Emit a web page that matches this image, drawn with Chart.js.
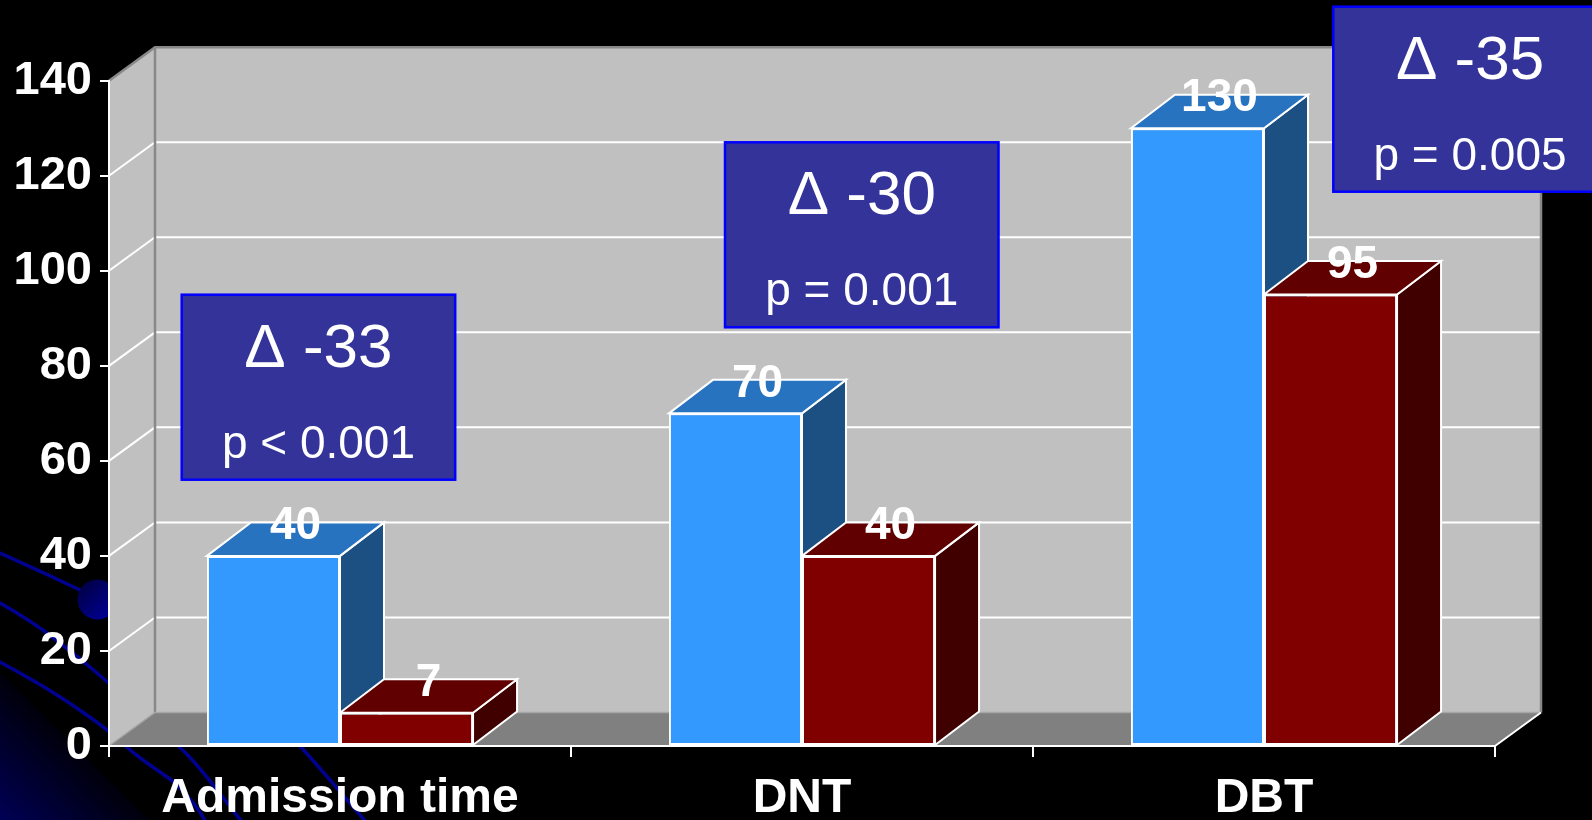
<!DOCTYPE html>
<html>
<head>
<meta charset="utf-8">
<style>
  html, body { margin: 0; padding: 0; background: #000; overflow: hidden; }
  #wrap { position: relative; width: 1592px; height: 820px; }
</style>
<script src="https://cdn.jsdelivr.net/npm/chart.js@4/dist/chart.umd.min.js"></script>
</head>
<body>
<div id="wrap"><canvas id="chart" width="1592" height="820"></canvas></div>
<script>
// ---- data ----
const categories = ['Admission time', 'DNT', 'DBT'];
const seriesBefore = [40, 70, 130];
const seriesAfter = [7, 40, 95];
const pValues = ['p < 0.001', 'p = 0.001', 'p = 0.005'];
const yTickValues = [0, 20, 40, 60, 80, 100, 120, 140];

// ---- look ----
const FONT = '"Liberation Sans", Arial, sans-serif';
const WALL_DX = 46, WALL_DY = -33.5;   // depth of the back wall / floor
const BAR_DX = 44, BAR_DY = -33.5;     // depth of each bar
const faceColors = [
  { front: '#3399FF', top: '#2873BF', side: '#1C4F82' },
  { front: '#800000', top: '#600000', side: '#400000' }
];
// callout boxes (left, top) in canvas pixels
const boxPlacement = [[181.7, 294.7], [725, 142.3], [1333.3, 6.7]];
const BOX_W = 273.5, BOX_H = 185;

function smoothStroke(ctx, pts) {
  ctx.beginPath();
  ctx.moveTo(pts[0][0], pts[0][1]);
  for (let i = 1; i < pts.length - 1; i++) {
    const mx = (pts[i][0] + pts[i + 1][0]) / 2, my = (pts[i][1] + pts[i + 1][1]) / 2;
    ctx.quadraticCurveTo(pts[i][0], pts[i][1], mx, my);
  }
  const last = pts[pts.length - 1];
  ctx.lineTo(last[0], last[1]);
  ctx.stroke();
}

// slide backdrop: black with navy swooshes in the lower-left corner
function drawBackdrop(ctx, w, h) {
  ctx.save();
  ctx.fillStyle = '#000';
  ctx.fillRect(0, 0, w, h);

  ctx.beginPath();
  ctx.moveTo(0, 672); ctx.lineTo(150, 820); ctx.lineTo(0, 820); ctx.closePath();
  const g = ctx.createLinearGradient(0, 820, 74, 745);
  g.addColorStop(0, 'rgb(0,0,85)');
  g.addColorStop(1, 'rgb(0,0,10)');
  ctx.fillStyle = g;
  ctx.fill();

  ctx.strokeStyle = 'rgb(0,0,145)';
  ctx.lineWidth = 3.5;
  ctx.lineCap = 'round';
  smoothStroke(ctx, [[0, 553], [40, 571], [82, 591]]);
  smoothStroke(ctx, [[0, 603], [30, 620], [73, 653], [108, 682], [145, 716], [180, 747], [200, 768], [242, 822]]);
  smoothStroke(ctx, [[0, 662], [33, 680], [70, 703], [108, 730], [133, 753], [157, 770], [177, 784], [196, 806], [206, 822]]);
  smoothStroke(ctx, [[290, 735], [313, 760], [366, 822]]);

  const cg = ctx.createLinearGradient(82, 584, 112, 616);
  cg.addColorStop(0, 'rgb(0,0,70)');
  cg.addColorStop(1, 'rgb(0,0,150)');
  ctx.fillStyle = cg;
  ctx.beginPath();
  ctx.arc(97.5, 599.5, 20, 0, Math.PI * 2);
  ctx.fill();
  ctx.restore();
}

const box3d = {
  id: 'box3d',
  beforeDraw(chart) {
    const { ctx, chartArea: a, scales: { y } } = chart;
    drawBackdrop(ctx, chart.width, chart.height);
    const yTop = y.getPixelForValue(y.max), yZero = y.getPixelForValue(0);
    ctx.save();
    // left side wall
    ctx.fillStyle = '#C0C0C0';
    ctx.beginPath();
    ctx.moveTo(a.left, yTop); ctx.lineTo(a.left + WALL_DX, yTop + WALL_DY);
    ctx.lineTo(a.left + WALL_DX, yZero + WALL_DY); ctx.lineTo(a.left, yZero);
    ctx.closePath(); ctx.fill();
    // back wall
    ctx.fillRect(a.left + WALL_DX, yTop + WALL_DY, a.right - a.left, yZero - yTop);
    // floor
    ctx.fillStyle = '#808080';
    ctx.beginPath();
    ctx.moveTo(a.left, yZero); ctx.lineTo(a.right, yZero);
    ctx.lineTo(a.right + WALL_DX, yZero + WALL_DY); ctx.lineTo(a.left + WALL_DX, yZero + WALL_DY);
    ctx.closePath(); ctx.fill();

    // gridlines on the walls
    ctx.strokeStyle = '#FFFFFF';
    ctx.lineWidth = 2;
    yTickValues.forEach(v => {
      if (v === 0 || v === y.max) return;
      const py = y.getPixelForValue(v);
      ctx.beginPath();
      ctx.moveTo(a.left, py); ctx.lineTo(a.left + WALL_DX, py + WALL_DY);
      ctx.lineTo(a.right + WALL_DX, py + WALL_DY);
      ctx.stroke();
    });

    // wall edges
    ctx.strokeStyle = '#888888';
    ctx.lineWidth = 2.5;
    ctx.beginPath();
    ctx.moveTo(a.left, yTop); ctx.lineTo(a.left + WALL_DX, yTop + WALL_DY);
    ctx.lineTo(a.right + WALL_DX, yTop + WALL_DY); ctx.lineTo(a.right + WALL_DX, yZero + WALL_DY);
    ctx.moveTo(a.left + WALL_DX, yTop + WALL_DY); ctx.lineTo(a.left + WALL_DX, yZero + WALL_DY);
    ctx.stroke();
    ctx.strokeStyle = '#A6A6A6';
    ctx.lineWidth = 1.5;
    ctx.beginPath();
    ctx.moveTo(a.left, yZero); ctx.lineTo(a.left + WALL_DX, yZero + WALL_DY);
    ctx.lineTo(a.right + WALL_DX, yZero + WALL_DY);
    ctx.stroke();
    ctx.strokeStyle = '#FFFFFF';
    ctx.lineWidth = 2;
    ctx.beginPath();
    ctx.moveTo(a.right, yZero); ctx.lineTo(a.right + WALL_DX, yZero + WALL_DY);
    ctx.stroke();
    ctx.restore();
  },
  beforeDatasetsDraw(chart) {
    // top and right faces, painted left to right so nearer faces cover farther ones
    const { ctx } = chart;
    ctx.save();
    ctx.strokeStyle = '#FFFFFF';
    ctx.lineWidth = 2;
    ctx.lineJoin = 'miter';
    for (let i = 0; i < categories.length; i++) {
      for (let d = 0; d < chart.data.datasets.length; d++) {
        const bar = chart.getDatasetMeta(d).data[i];
        const { x, y, base, width } = bar.getProps(['x', 'y', 'base', 'width'], true);
        const l = x - width / 2, r = x + width / 2;
        const c = faceColors[d];
        ctx.fillStyle = c.side;
        ctx.beginPath();
        ctx.moveTo(r, y); ctx.lineTo(r + BAR_DX, y + BAR_DY);
        ctx.lineTo(r + BAR_DX, base + BAR_DY); ctx.lineTo(r, base);
        ctx.closePath(); ctx.fill(); ctx.stroke();
        ctx.fillStyle = c.top;
        ctx.beginPath();
        ctx.moveTo(l, y); ctx.lineTo(l + BAR_DX, y + BAR_DY);
        ctx.lineTo(r + BAR_DX, y + BAR_DY); ctx.lineTo(r, y);
        ctx.closePath(); ctx.fill(); ctx.stroke();
      }
    }
    ctx.restore();
  },
  afterDatasetsDraw(chart) {
    // value labels sit on the top face of each bar
    const { ctx } = chart;
    ctx.save();
    ctx.fillStyle = '#FFFFFF';
    ctx.font = 'bold 46px ' + FONT;
    ctx.textAlign = 'center';
    ctx.textBaseline = 'alphabetic';
    chart.data.datasets.forEach((ds, d) => {
      chart.getDatasetMeta(d).data.forEach((bar, i) => {
        const { x, y } = bar.getProps(['x', 'y'], true);
        ctx.fillText(String(ds.data[i]), x + BAR_DX / 2, y + BAR_DY / 2);
      });
    });
    ctx.restore();
  },
  afterDraw(chart) {
    // change callouts: difference between the two series and its p-value
    const { ctx } = chart;
    ctx.save();
    categories.forEach((cat, i) => {
      const [l, t] = boxPlacement[i];
      ctx.fillStyle = '#333399';
      ctx.fillRect(l, t, BOX_W, BOX_H);
      ctx.strokeStyle = '#0000FF';
      ctx.lineWidth = 2.5;
      ctx.strokeRect(l, t, BOX_W, BOX_H);
      const cx = l + BOX_W / 2;
      ctx.fillStyle = '#FFFFFF';
      ctx.textAlign = 'center';
      ctx.textBaseline = 'alphabetic';
      ctx.font = '62px ' + FONT;
      ctx.fillText('\u0394 ' + (seriesAfter[i] - seriesBefore[i]), cx, t + 72);
      ctx.font = '46px ' + FONT;
      ctx.fillText(pValues[i], cx, t + 163);
    });
    ctx.restore();
  }
};

new Chart(document.getElementById('chart'), {
  type: 'bar',
  data: {
    labels: categories,
    datasets: [
      { label: 'Before', data: seriesBefore, backgroundColor: faceColors[0].front },
      { label: 'After', data: seriesAfter, backgroundColor: faceColors[1].front }
    ]
  },
  options: {
    responsive: false,
    animation: false,
    devicePixelRatio: 1,
    layout: { padding: { left: 0, top: 80.7, right: 97, bottom: 0 } },
    datasets: {
      bar: {
        borderColor: '#FFFFFF',
        borderWidth: 2,
        borderSkipped: false,
        categoryPercentage: 0.576,
        barPercentage: 1
      }
    },
    plugins: { legend: { display: false }, tooltip: { enabled: false } },
    scales: {
      x: {
        offset: true,
        afterFit(scale) { scale.height = 74; },
        grid: { offset: true, drawOnChartArea: false, drawTicks: true, tickLength: 11, color: '#FFFFFF', lineWidth: 2 },
        border: { display: true, color: '#FFFFFF', width: 2 },
        ticks: { color: '#FFFFFF', font: { family: FONT, size: 48, weight: 'bold' }, padding: 13, maxRotation: 0, autoSkip: false }
      },
      y: {
        min: 0,
        max: 140,
        afterFit(scale) { scale.width = 109; },
        afterBuildTicks(scale) { scale.ticks = yTickValues.map(v => ({ value: v })); },
        grid: { drawOnChartArea: false, drawTicks: true, tickLength: 9, color: '#FFFFFF', lineWidth: 2 },
        border: { display: true, color: '#FFFFFF', width: 2 },
        ticks: { color: '#FFFFFF', font: { family: FONT, size: 47, weight: 'bold' }, padding: 8 }
      }
    }
  },
  plugins: [box3d]
});
</script>
</body>
</html>
